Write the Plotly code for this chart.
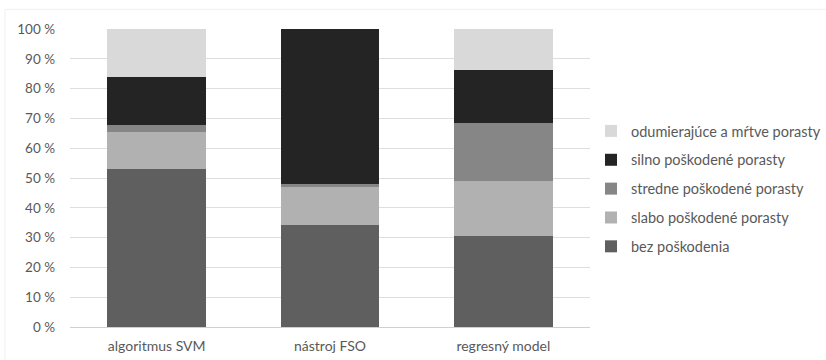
import plotly.graph_objects as go

categories = ["algoritmus SVM", "nástroj FSO", "regresný model"]

series_names = [
    "bez poškodenia",
    "slabo poškodené porasty",
    "stredne poškodené porasty",
    "silno poškodené porasty",
    "odumierajúce a mŕtve porasty",
]

bez_poskodenia = [53.1, 34.1, 30.6]
slabo = [12.3, 12.8, 18.5]
stredne = [2.4, 1.1, 19.5]
silno = [16.0, 52.0, 17.5]
odumierajuce = [16.2, 0.0, 13.9]

tick_values = [0, 10, 20, 30, 40, 50, 60, 70, 80, 90, 100]
tick_labels = ["0 %", "10 %", "20 %", "30 %", "40 %", "50 %", "60 %", "70 %", "80 %", "90 %", "100 %"]

colors = ["#5f5f5f", "#b1b1b1", "#868686", "#242424", "#d9d9d9"]
values = [bez_poskodenia, slabo, stredne, silno, odumierajuce]

font_family = "Lato, 'Open Sans', sans-serif"
text_color = "#595959"

fig = go.Figure()
n = len(series_names)
for i, (name, vals, col) in enumerate(zip(series_names, values, colors)):
    fig.add_trace(go.Bar(
        x=categories,
        y=vals,
        name=name,
        legendgroup=name,
        legendrank=n - i,
        marker=dict(color=col, line=dict(width=0)),
        hoverinfo="x+y+name",
    ))

fig.update_layout(
    barmode="stack",
    bargap=0.43,
    width=826,
    height=360,
    margin=dict(l=70, r=236, t=29, b=33, autoexpand=False),
    paper_bgcolor="white",
    plot_bgcolor="white",
    font=dict(family=font_family, size=13, color=text_color),
    xaxis=dict(
        showgrid=False,
        showline=True,
        linecolor="#d0d0d0",
        linewidth=1,
        ticks="",
        ticklabelstandoff=6,
        tickfont=dict(size=14, color=text_color),
    ),
    yaxis=dict(
        range=[0, 100],
        tickvals=tick_values,
        ticktext=tick_labels,
        showgrid=True,
        gridcolor="#dedede",
        gridwidth=1,
        zeroline=False,
        showline=False,
        ticks="",
        ticklabelstandoff=14,
        tickfont=dict(size=13.5, color=text_color),
    ),
    legend=dict(
        xref="container",
        yref="container",
        x=591 / 826,
        xanchor="left",
        y=1 - 115 / 360,
        yanchor="top",
        traceorder="grouped",
        tracegroupgap=7,
        font=dict(size=14.5, color=text_color),
        bgcolor="rgba(0,0,0,0)",
    ),
    shapes=[
        dict(type="rect", xref="paper", yref="paper",
             x0=-0.125, x1=1.5, y0=-0.2, y1=1.066,
             line=dict(color="#f0f0f0", width=1), layer="below"),
    ],
)

fig.write_html("out.html")
